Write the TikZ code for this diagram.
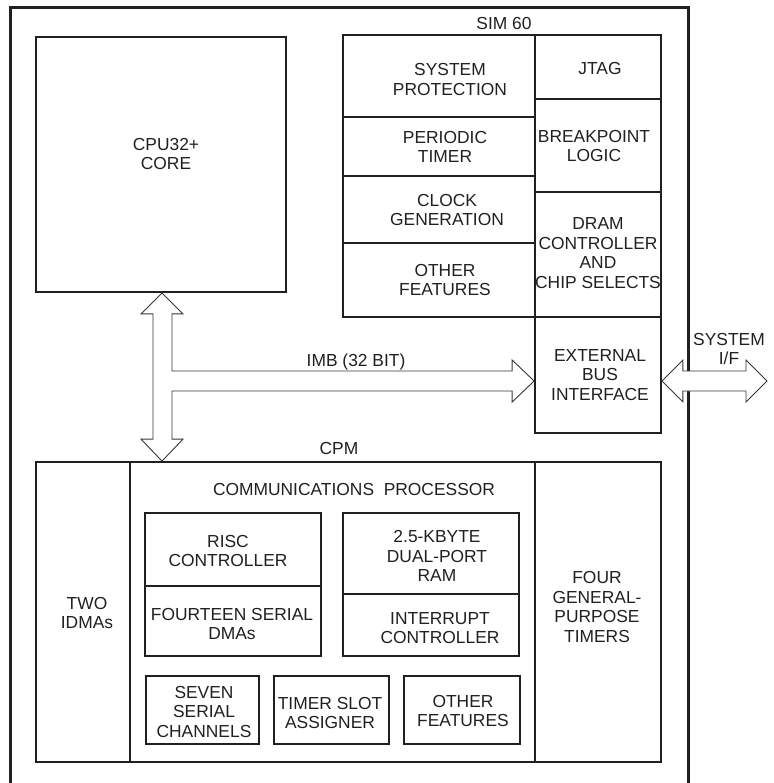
\documentclass[tikz,border=0pt]{standalone}
\usepackage{fontspec}
\setmainfont{Liberation Sans}
\usetikzlibrary{calc}
\definecolor{ink}{HTML}{231F20}
\begin{document}
\begin{tikzpicture}[x=1pt,y=-1pt,
  every node/.style={font=\fontsize{17.4pt}{19.7pt}\selectfont, text=ink},
  cell/.style 2 args={draw=ink, line width=1.8pt, rectangle, inner sep=0pt,
     minimum width=#1pt, minimum height=#2pt},
  icell/.style 2 args={cell={#1}{#2}, line width=1.5pt},
  lbl/.style={align=center, inner sep=0pt},
  bus/.style={draw=ink!90, fill=white, line width=0.9pt, line join=miter}]
\useasboundingbox (0,0) rectangle (773,783);
% outer frame (open at the bottom)
\draw[ink, line width=3pt, line join=miter] (10,783) -- (10,8) -- (688,8) -- (688,783);
% CPU
\node[cell={250}{255}] (cpu) at (161,164.5) {};
% SIM 60
\node[cell={192}{82}] (sysprot) at (439,76) {};
\node[cell={192}{59}] (periodic) at (439,146.5) {};
\node[cell={192}{67}] (clock) at (439,209.5) {};
\node[cell={192}{74}] (simother) at (439,280) {};
\node[cell={126}{64}] (jtag) at (598,67) {};
\node[cell={126}{93}] (bkpt) at (598,145.5) {};
\node[cell={126}{125}] (dram) at (598,254.5) {};
\node[cell={126}{116}] (ebi) at (598,375) {};
% CPM
\node[cell={94}{300}] (idma) at (83,612) {};
\node[cell={405}{300}] (comm) at (332.5,612) {};
\node[cell={126}{300}] (tmr) at (598,612) {};
\node[icell={176}{73}] (risc) at (233,549.5) {};
\node[icell={176}{70}] (sdma) at (233,621) {};
\node[icell={176}{81}] (ram) at (431,553.5) {};
\node[icell={176}{62}] (intr) at (431,625) {};
\node[icell={113}{68}] (seven) at (202.5,710) {};
\node[icell={115}{68}] (tsa) at (331.5,710) {};
\node[icell={116}{68}] (cpmother) at (462,710) {};
% labels
\node[lbl] (tcpu) at (166,154) {CPU32+\\CORE};
\node[lbl] (tsim) at (504,24) {SIM 60};
\node[lbl] (tsys) at (450,79.5) {SYSTEM\\PROTECTION};
\node[lbl] (tper) at (445,147) {PERIODIC\\TIMER};
\node[lbl] (tclk) at (447,210) {CLOCK\\GENERATION};
\node[lbl] (toth) at (445,280) {OTHER\\FEATURES};
\node[lbl] (tjtag) at (600,69) {JTAG};
\node[lbl] (tbkpt) at (594,146) {BREAKPOINT\\LOGIC};
\node[lbl] (tdram) at (598,253) {DRAM\\CONTROLLER\\AND\\CHIP SELECTS};
\node[lbl] (tebi) at (600,375) {EXTERNAL\\BUS\\INTERFACE};
\node[lbl] (tsif) at (729,349) {SYSTEM\\I/F};
\node[lbl, anchor=base] (timb) at (356,366) {IMB (32 BIT)};
\node[lbl] (tcpm) at (339,449) {CPM};
\node[lbl] (tcomm) at (354,490) {COMMUNICATIONS\ \ PROCESSOR};
\node[lbl] (tidma) at (87,613) {TWO\\IDMAs};
\node[lbl] (trisc) at (228,551) {RISC\\CONTROLLER};
\node[lbl] (tsdma) at (232,624) {FOURTEEN SERIAL\\DMAs};
\node[lbl] (tram) at (437,556) {2.5-KBYTE\\DUAL-PORT\\RAM};
\node[lbl] (tintr) at (440,628) {INTERRUPT\\CONTROLLER};
\node[lbl] (tseven) at (204,712) {SEVEN\\SERIAL\\CHANNELS};
\node[lbl] (ttsa) at (330,713) {TIMER SLOT\\ASSIGNER};
\node[lbl] (toth2) at (463,711) {OTHER\\FEATURES};
\node[lbl] (ttmr) at (597,607) {FOUR\\GENERAL-\\PURPOSE\\TIMERS};
% bus arrows
\coordinate (imbU) at (0,371);
\coordinate (imbD) at (0,391);
\coordinate (imbM) at (0,381);
\coordinate (vt) at ($(cpu.south)+(1,0)$);
\coordinate (vb) at (vt |- comm.north);
\coordinate (vR) at ($(vt)+(10,0)$);
\coordinate (vL) at ($(vt)+(-9,0)$);
\coordinate (vRb) at (vR |- vb);
\coordinate (vLb) at (vL |- vb);
\coordinate (ht) at (ebi.west |- imbM);
\coordinate (hb) at ($(ht)+(-22,0)$);
\draw[bus] (vt) -- ($(vt)+(21,21)$) -- ($(vR)+(0,21)$) -- (vR |- imbU)
  -- (hb |- imbU) -- ($(hb)+(0,-21)$) -- (ht) -- ($(hb)+(0,21)$) -- (hb |- imbD)
  -- (vR |- imbD) -- ($(vRb)+(0,-22)$) -- ($(vb)+(21,-22)$) -- (vb)
  -- ($(vb)+(-21,-22)$) -- ($(vLb)+(0,-22)$) -- ($(vL)+(0,21)$)
  -- ($(vt)+(-21,21)$) -- cycle;
\coordinate (st) at (ebi.east |- imbM);
\coordinate (se) at (767,381);
\draw[bus] (st) -- ($(st)+(21,-21)$) -- ($(st)+(21,-10)$) -- ($(se)+(-21,-10)$)
  -- ($(se)+(-21,-21)$) -- (se) -- ($(se)+(-21,21)$) -- ($(se)+(-21,10)$)
  -- ($(st)+(21,10)$) -- ($(st)+(21,21)$) -- cycle;
\end{tikzpicture}
\end{document}
